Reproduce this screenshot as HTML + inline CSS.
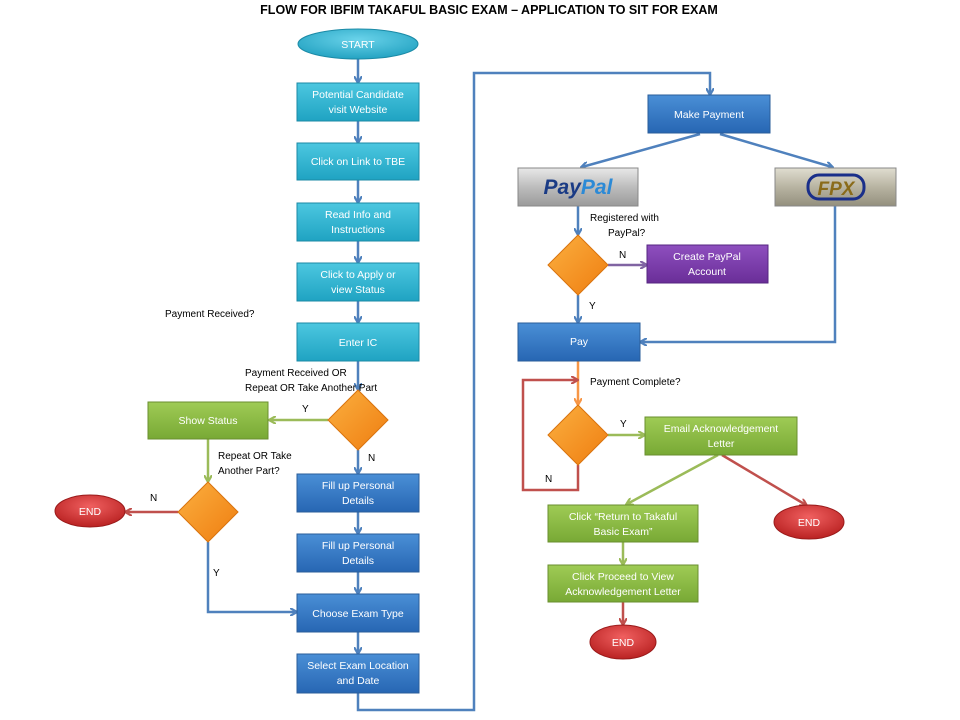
<!DOCTYPE html>
<html><head><meta charset="utf-8"><style>
html,body{margin:0;padding:0;background:#fff;}
svg{display:block;font-family:"Liberation Sans",sans-serif;}
.w{fill:#fff;font-size:10.5px;text-anchor:middle;}
.k{fill:#000;font-size:10px;}
</style></head><body>
<svg width="960" height="720" viewBox="0 0 960 720">
<defs>
<linearGradient id="cy" x1="0" y1="0" x2="0" y2="1"><stop offset="0" stop-color="#4cc7e0"/><stop offset="1" stop-color="#1fa3c2"/></linearGradient>
<linearGradient id="bl" x1="0" y1="0" x2="0" y2="1"><stop offset="0" stop-color="#4a8fd6"/><stop offset="1" stop-color="#2766b3"/></linearGradient>
<linearGradient id="gr" x1="0" y1="0" x2="0" y2="1"><stop offset="0" stop-color="#9fcb55"/><stop offset="1" stop-color="#78a935"/></linearGradient>
<linearGradient id="pu" x1="0" y1="0" x2="0" y2="1"><stop offset="0" stop-color="#8e4fbf"/><stop offset="1" stop-color="#6a2e98"/></linearGradient>
<linearGradient id="gy" x1="0" y1="0" x2="0" y2="1"><stop offset="0" stop-color="#e8e8e8"/><stop offset="0.5" stop-color="#bdbdbd"/><stop offset="1" stop-color="#9a9a9a"/></linearGradient>
<linearGradient id="gy2" x1="0" y1="0" x2="0" y2="1"><stop offset="0" stop-color="#e0ddd0"/><stop offset="0.5" stop-color="#b8b4a2"/><stop offset="1" stop-color="#938f7d"/></linearGradient>
<linearGradient id="or" x1="0" y1="0" x2="1" y2="1"><stop offset="0" stop-color="#fbb040"/><stop offset="1" stop-color="#ef7d10"/></linearGradient>
<radialGradient id="rd" cx="0.5" cy="0.35" r="0.7"><stop offset="0" stop-color="#f06060"/><stop offset="1" stop-color="#b51d1d"/></radialGradient>
<radialGradient id="cye" cx="0.5" cy="0.35" r="0.7"><stop offset="0" stop-color="#6ad3ea"/><stop offset="1" stop-color="#1e9fbf"/></radialGradient>
<marker id="ab" markerWidth="8" markerHeight="8" refX="6" refY="4" orient="auto" markerUnits="userSpaceOnUse"><path d="M0,0 L7,4 L0,8" fill="none" stroke="#4f81bd" stroke-width="2.2"/></marker>
<marker id="ag" markerWidth="8" markerHeight="8" refX="6" refY="4" orient="auto" markerUnits="userSpaceOnUse"><path d="M0,0 L7,4 L0,8" fill="none" stroke="#9bbb59" stroke-width="2.2"/></marker>
<marker id="ar" markerWidth="8" markerHeight="8" refX="6" refY="4" orient="auto" markerUnits="userSpaceOnUse"><path d="M0,0 L7,4 L0,8" fill="none" stroke="#c0504d" stroke-width="2.2"/></marker>
<marker id="ap" markerWidth="8" markerHeight="8" refX="6" refY="4" orient="auto" markerUnits="userSpaceOnUse"><path d="M0,0 L7,4 L0,8" fill="none" stroke="#8064a2" stroke-width="2.2"/></marker>
<marker id="ao" markerWidth="8" markerHeight="8" refX="6" refY="4" orient="auto" markerUnits="userSpaceOnUse"><path d="M0,0 L7,4 L0,8" fill="none" stroke="#f79646" stroke-width="2.2"/></marker>
</defs>
<text x="489" y="14" text-anchor="middle" font-size="12.5" font-weight="bold">FLOW FOR IBFIM  TAKAFUL BASIC EXAM – APPLICATION TO SIT FOR EXAM</text>

<g stroke="#4f81bd" stroke-width="2.5" fill="none" marker-end="url(#ab)">
<line x1="358" y1="59" x2="358" y2="82"/>
<line x1="358" y1="121" x2="358" y2="142"/>
<line x1="358" y1="180" x2="358" y2="202"/>
<line x1="358" y1="241" x2="358" y2="262"/>
<line x1="358" y1="301" x2="358" y2="322"/>
<line x1="358" y1="361" x2="358" y2="389"/>
<line x1="358" y1="450" x2="358" y2="473"/>
<line x1="358" y1="512" x2="358" y2="533"/>
<line x1="358" y1="572" x2="358" y2="593"/>
<line x1="358" y1="632" x2="358" y2="653"/>
<polyline points="208,542 208,612 296,612"/>
<polyline points="358,693 358,710 474,710 474,73 710,73 710,94"/>
<line x1="700" y1="134" x2="582" y2="167"/>
<line x1="720" y1="134" x2="832" y2="167"/>
<line x1="578" y1="206" x2="578" y2="234"/>
<line x1="578" y1="295" x2="578" y2="322"/>
<polyline points="835,206 835,342 641,342"/>
</g>
<polyline points="578,361 578,404" stroke="#f79646" stroke-width="2.5" fill="none" marker-end="url(#ao)"/>
<polyline points="578,465 578,490 523,490 523,380 577,380" stroke="#c0504d" stroke-width="2.5" fill="none" marker-end="url(#ar)"/>
<line x1="328" y1="420" x2="270" y2="420" stroke="#9bbb59" stroke-width="2.5" marker-end="url(#ag)"/>
<line x1="208" y1="439" x2="208" y2="481" stroke="#9bbb59" stroke-width="2.5" marker-end="url(#ag)"/>
<line x1="178" y1="512" x2="126" y2="512" stroke="#c0504d" stroke-width="2.5" marker-end="url(#ar)"/>
<line x1="608" y1="265" x2="646" y2="265" stroke="#8064a2" stroke-width="2.5" marker-end="url(#ap)"/>
<line x1="608" y1="435" x2="644" y2="435" stroke="#9bbb59" stroke-width="2.5" marker-end="url(#ag)"/>
<line x1="718" y1="455" x2="627" y2="504" stroke="#9bbb59" stroke-width="2.5" marker-end="url(#ag)"/>
<line x1="722" y1="455" x2="806" y2="505" stroke="#c0504d" stroke-width="2.5" marker-end="url(#ar)"/>
<line x1="623" y1="542" x2="623" y2="564" stroke="#9bbb59" stroke-width="2.5" marker-end="url(#ag)"/>
<line x1="623" y1="602" x2="623" y2="624" stroke="#c0504d" stroke-width="2.5" marker-end="url(#ar)"/>

<ellipse cx="358" cy="44" rx="60" ry="15" fill="url(#cye)" stroke="#1b8aa6"/>
<text class="w" x="358" y="48">START</text>
<g stroke="#1b8aa6" fill="url(#cy)">
<rect x="297" y="83" width="122" height="38"/>
<rect x="297" y="143" width="122" height="37"/>
<rect x="297" y="203" width="122" height="38"/>
<rect x="297" y="263" width="122" height="38"/>
<rect x="297" y="323" width="122" height="38"/>
</g>
<text class="w" x="358" y="98">Potential Candidate</text><text class="w" x="358" y="113">visit Website</text>
<text class="w" x="358" y="165">Click on Link to TBE</text>
<text class="w" x="358" y="218">Read Info and</text><text class="w" x="358" y="233">Instructions</text>
<text class="w" x="358" y="278">Click to Apply or</text><text class="w" x="358" y="293">view Status</text>
<text class="w" x="358" y="346">Enter IC</text>
<g stroke="#2a5d9a" fill="url(#bl)">
<rect x="297" y="474" width="122" height="38"/>
<rect x="297" y="534" width="122" height="38"/>
<rect x="297" y="594" width="122" height="38"/>
<rect x="297" y="654" width="122" height="39"/>
<rect x="648" y="95" width="122" height="38"/>
<rect x="518" y="323" width="122" height="38"/>
</g>
<text class="w" x="358" y="489">Fill up Personal</text><text class="w" x="358" y="504">Details</text>
<text class="w" x="358" y="549">Fill up Personal</text><text class="w" x="358" y="564">Details</text>
<text class="w" x="358" y="617">Choose Exam Type</text>
<text class="w" x="358" y="669">Select Exam Location</text><text class="w" x="358" y="684">and Date</text>
<text class="w" x="709" y="118">Make Payment</text>
<text class="w" x="579" y="345">Pay</text>

<g fill="url(#or)" stroke="#d9730d">
<polygon points="358,390 388,420 358,450 328,420"/>
<polygon points="208,482 238,512 208,542 178,512"/>
<polygon points="578,235 608,265 578,295 548,265"/>
<polygon points="578,405 608,435 578,465 548,435"/>
</g>
<g stroke="#6a8f2f" fill="url(#gr)">
<rect x="148" y="402" width="120" height="37"/>
<rect x="645" y="417" width="152" height="38"/>
<rect x="548" y="505" width="150" height="37"/>
<rect x="548" y="565" width="150" height="37"/>
</g>
<text class="w" x="208" y="424">Show Status</text>
<text class="w" x="721" y="432">Email Acknowledgement</text><text class="w" x="721" y="447">Letter</text>
<text class="w" x="623" y="520">Click “Return to Takaful</text><text class="w" x="623" y="535">Basic Exam”</text>
<text class="w" x="623" y="580">Click Proceed to View</text><text class="w" x="623" y="595">Acknowledgement Letter</text>
<rect x="647" y="245" width="121" height="38" fill="url(#pu)" stroke="#552680"/>
<text class="w" x="707" y="260">Create PayPal</text><text class="w" x="707" y="275">Account</text>

<rect x="518" y="168" width="120" height="38" fill="url(#gy)" stroke="#888"/>
<text x="578" y="194" text-anchor="middle" font-size="21" font-weight="bold" font-style="italic" fill="#1a3b85">Pay<tspan fill="#2c8ad6">Pal</tspan></text>
<rect x="775" y="168" width="121" height="38" fill="url(#gy2)" stroke="#888"/>
<rect x="808" y="175" width="56" height="24" rx="11" fill="none" stroke="#1a2f8a" stroke-width="3"/>
<text x="836" y="195" text-anchor="middle" font-size="19" font-weight="bold" font-style="italic" fill="#8a6b1a">FPX</text>

<g fill="url(#rd)" stroke="#9a1a1a">
<ellipse cx="90" cy="511" rx="35" ry="16"/>
<ellipse cx="809" cy="522" rx="35" ry="17"/>
<ellipse cx="623" cy="642" rx="33" ry="17"/>
</g>
<text class="w" x="90" y="515">END</text>
<text class="w" x="809" y="526">END</text>
<text class="w" x="623" y="646">END</text>

<text class="k" x="165" y="317">Payment Received?</text>
<text class="k" x="245" y="376">Payment Received OR</text>
<text class="k" x="245" y="391">Repeat OR Take Another Part</text>
<text class="k" x="302" y="412">Y</text>
<text class="k" x="368" y="461">N</text>
<text class="k" x="218" y="459">Repeat OR Take</text>
<text class="k" x="218" y="474">Another Part?</text>
<text class="k" x="150" y="501">N</text>
<text class="k" x="213" y="576">Y</text>
<text class="k" x="590" y="221">Registered with</text>
<text class="k" x="608" y="236">PayPal?</text>
<text class="k" x="619" y="258">N</text>
<text class="k" x="589" y="309">Y</text>
<text class="k" x="590" y="385">Payment Complete?</text>
<text class="k" x="620" y="427">Y</text>
<text class="k" x="545" y="482">N</text>
</svg>
</body></html>
